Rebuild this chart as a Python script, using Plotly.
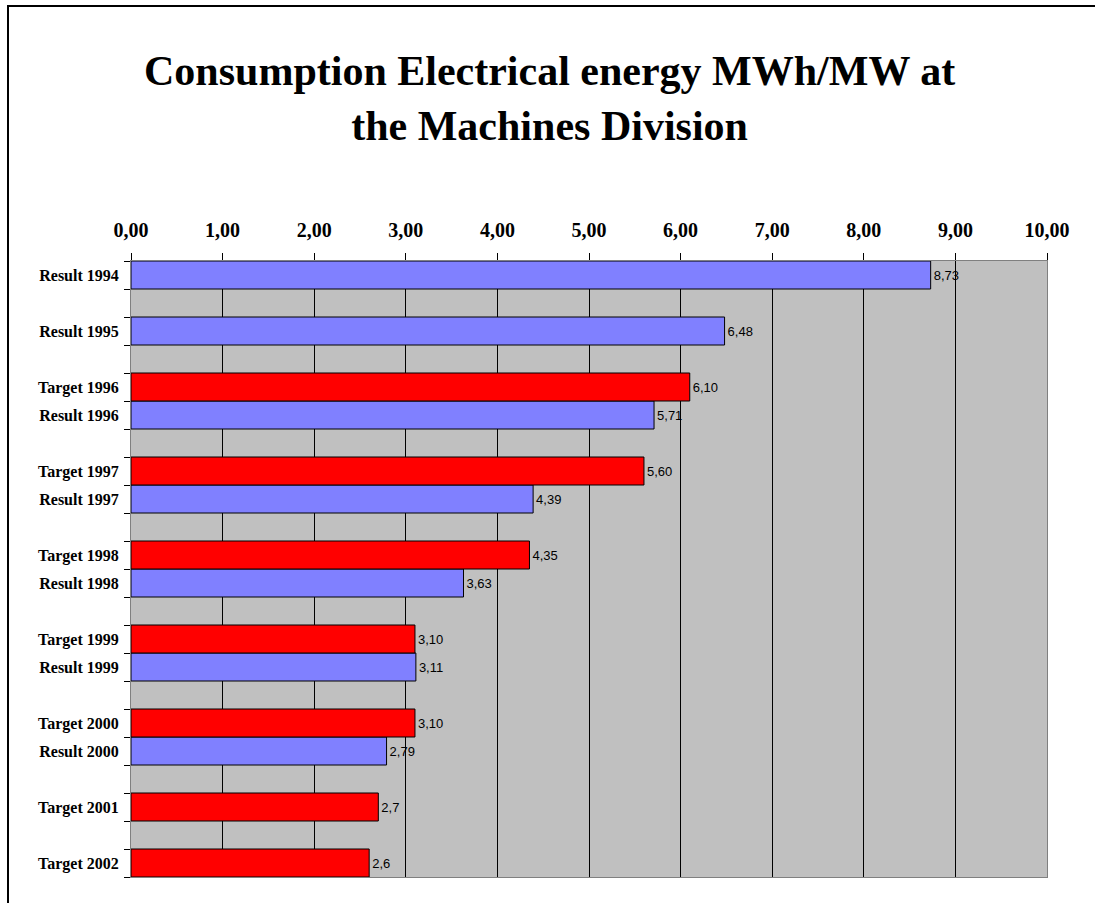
import plotly.graph_objects as go

# Row layout (top to bottom); empty strings are spacer rows between groups
rows = ["Result 1994", "", "Result 1995", "", "Target 1996", "Result 1996", "",
        "Target 1997", "Result 1997", "", "Target 1998", "Result 1998", "",
        "Target 1999", "Result 1999", "", "Target 2000", "Result 2000", "",
        "Target 2001", "", "Target 2002"]

result_labels = ["Result 1994", "Result 1995", "Result 1996", "Result 1997",
                 "Result 1998", "Result 1999", "Result 2000"]
result_values = [8.73, 6.48, 5.71, 4.39, 3.63, 3.11, 2.79]
result_text = ["8,73", "6,48", "5,71", "4,39", "3,63", "3,11", "2,79"]

target_labels = ["Target 1996", "Target 1997", "Target 1998", "Target 1999",
                 "Target 2000", "Target 2001", "Target 2002"]
target_values = [6.10, 5.60, 4.35, 3.10, 3.10, 2.7, 2.6]
target_text = ["6,10", "5,60", "4,35", "3,10", "3,10", "2,7", "2,6"]

x_ticks = [0, 1, 2, 3, 4, 5, 6, 7, 8, 9, 10]

title_text = "Consumption Electrical energy MWh/MW at<br>the Machines Division"

pos = {lab: i for i, lab in enumerate(rows) if lab}

W, H = 1095, 903
L, R, T, B = 131, 48, 261, 26
pw, ph = W - L - R, H - T - B

def px_x(p):
    return (p - L) / pw

def px_y(p):
    return (H - B - p) / ph

fig = go.Figure()
label_font = dict(family="Liberation Sans, Arial", size=13, color="black")
fig.add_trace(go.Bar(
    y=[pos[l] for l in result_labels], x=result_values, orientation="h",
    width=1.0, marker=dict(color="#8080FF", line=dict(color="black", width=1)),
    text=result_text, textposition="outside", textfont=label_font,
    cliponaxis=False, showlegend=False, hoverinfo="x+y"))
fig.add_trace(go.Bar(
    y=[pos[l] for l in target_labels], x=target_values, orientation="h",
    width=1.0, marker=dict(color="#FF0000", line=dict(color="black", width=1)),
    text=target_text, textposition="outside", textfont=label_font,
    cliponaxis=False, showlegend=False, hoverinfo="x+y"))

tick_rows = [i for i, l in enumerate(rows) if l]
serif = "Liberation Serif, Times New Roman"
fig.update_layout(
    width=W, height=H,
    margin=dict(l=L, r=R, t=T, b=B, pad=0),
    paper_bgcolor="white", plot_bgcolor="#C0C0C0",
    separators=",.",
    barmode="overlay",
    xaxis=dict(side="top", range=[0, 10], tickvals=x_ticks, tickformat=".2f",
               showgrid=True, gridcolor="black", gridwidth=1,
               ticks="outside", ticklen=7, tickcolor="black",
               ticklabelstandoff=8,
               showline=True, linecolor="#808080", mirror=True,
               zeroline=False,
               tickfont=dict(family=serif, size=20, color="black", weight="bold")),
    yaxis=dict(range=[len(rows) - 0.5, -0.5], tickvals=tick_rows,
               ticktext=[rows[i] for i in tick_rows], ticks="", showgrid=False,
               showline=True, linecolor="#808080", mirror=True, zeroline=False,
               ticklabelstandoff=8,
               minor=dict(tick0=0.5, dtick=1, ticks="outside", ticklen=6,
                          tickcolor="black", showgrid=False),
               tickfont=dict(family=serif, size=16, color="black", weight="bold")),
    annotations=[
        dict(text=title_text, xref="paper", yref="paper",
             x=px_x(549), y=px_y(98), xanchor="center", yanchor="middle",
             showarrow=False, align="center",
             font=dict(family=serif, size=42, color="black", weight="bold")),
    ],
    shapes=[dict(type="rect", xref="paper", yref="paper",
                 x0=px_x(8), x1=px_x(1200), y0=px_y(1000), y1=px_y(6),
                 line=dict(color="black", width=2), fillcolor="rgba(0,0,0,0)",
                 layer="above")],
)

fig.write_html("out.html", config={"displayModeBar": False},
               post_script="document.body.style.margin='0px';")
